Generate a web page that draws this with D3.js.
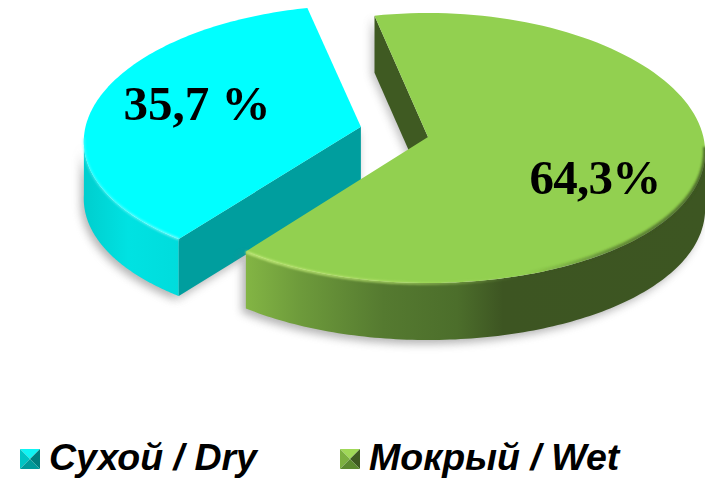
<!DOCTYPE html>
<html><head><meta charset="utf-8">
<script src="https://cdn.jsdelivr.net/npm/d3@7/dist/d3.min.js"></script>
<style>html,body{margin:0;padding:0;background:#fff}svg{display:block}</style>
</head><body><svg id="c" width="705" height="478"></svg>
<script>
const categories = ["Сухой / Dry", "Мокрый / Wet"];
const values = [35.7, 64.3];
const valueLabels = ["35,7 %", "64,3%"];
const topColors = ["#00ffff", "#92d050"];

const W = 705, H = 478;
const svg = d3.select("#c").attr("viewBox", `0 0 ${W} ${H}`);
const defs = svg.append("defs");
const rad = d => d * Math.PI / 180;

// layout of the tilted pie
const centre = {x: 428, y: 148}, rx = 277, ry = 135, depth = 57, lift = 11, explode = 0.25, persp = 0.03;
const sx = d3.scaleLinear().domain([-1, 1]).range([-rx, rx]);
const sy = d3.scaleLinear().domain([-1, 1]).range([-ry, ry]);

const arcs = d3.pie().value(d => d).sort(null).startAngle(rad(220)).endAngle(rad(580))(values);
const mid = d => (d.startAngle + d.endAngle) / 2;
const centres = arcs.map((d, i) => i === 0
  ? {x: centre.x + sx(explode * Math.sin(mid(d))), y: centre.y + sy(-explode * Math.cos(mid(d))) - 2, k: 0.98}
  : {x: centre.x, y: centre.y, k: 1});
const pt = (c, a, dz = 0) => [
  c.x + sx(Math.sin(a)) * (1 - persp * Math.cos(a)),
  c.y + sy(-Math.cos(a)) * c.k + dz];
const apex = (c, dz = 0) => [c.x, c.y - lift + dz];
const sweep = (a0, a1) => d3.range(0, 121).map(k => a0 + (a1 - a0) * k / 120);
const line = d3.line();
const closed = p => line(p) + "Z";

// defs
function grad(id, x1, x2, stops) {
  const g = defs.append("linearGradient").attr("id", id).attr("gradientUnits", "userSpaceOnUse")
    .attr("x1", x1).attr("x2", x2).attr("y1", 0).attr("y2", 0);
  stops.forEach(s => g.append("stop").attr("offset", s[0]).attr("stop-color", s[1]).attr("stop-opacity", s[2] === undefined ? 1 : s[2]));
}
grad("wetSide", 246, 705, [[0, "#83b544"], [0.12, "#6d9a3b"], [0.3, "#557a30"], [0.46, "#4c6e2b"], [0.56, "#3d5522"], [1, "#3d5622"]]);
grad("drySide", 86, 180, [[0, "#00cfcf"], [0.45, "#00e2e2"], [1, "#00dcdc"]]);
grad("wetHi", 246, 520, [[0, "#c4ec7a", 1], [0.55, "#b4e06a", 0.8], [1, "#a8d860", 0]]);
grad("dryHi", 86, 180, [[0, "#7fffff", 0.5], [1, "#bfffff", 0.7]]);
grad("wetRim", 525, 705, [[0, "#3d5522", 0], [0.5, "#3d5522", 0.55], [1, "#3d5522", 0.8]]);
[["blur1", 1], ["blur4", 4]].forEach(([id, s]) => defs.append("filter").attr("id", id)
  .attr("x", "-20%").attr("y", "-20%").attr("width", "140%").attr("height", "140%")
  .append("feGaussianBlur").attr("stdDeviation", s));

const dry = arcs[0], wet = arcs[1], cD = centres[0], cW = centres[1];

// dry slice
const dryOuter = sweep(dry.startAngle, rad(270));
const dryOuterFace = [...dryOuter.map(a => pt(cD, a)), ...dryOuter.slice().reverse().map(a => pt(cD, a, depth))];
const dryStraight = [pt(cD, dry.startAngle), apex(cD), apex(cD, depth), pt(cD, dry.startAngle, depth)];
svg.append("path").attr("d", closed(dryOuterFace)).attr("transform", "translate(-3,4)").attr("fill", "#777").attr("opacity", .55).attr("filter", "url(#blur4)");
svg.append("path").attr("d", closed(dryStraight)).attr("transform", "translate(-2,4)").attr("fill", "#777").attr("opacity", .5).attr("filter", "url(#blur4)");
svg.append("path").attr("d", closed(dryOuterFace)).attr("fill", "url(#drySide)");
svg.append("path").attr("d", closed(dryStraight)).attr("fill", "#009e9e");
svg.append("path").attr("d", closed([apex(cD), ...sweep(dry.startAngle, dry.endAngle).map(a => pt(cD, a))])).attr("fill", topColors[0]);
svg.append("path").attr("d", line(dryOuter.map(a => pt(cD, a)))).attr("fill", "none").attr("stroke", "url(#dryHi)").attr("stroke-width", 2).attr("filter", "url(#blur1)");

// wet slice: its front rim runs from the right extreme to the end of the slice
const wetFront = sweep(rad(450), wet.endAngle);
const wetOuterFace = [...wetFront.map(a => pt(cW, a)), ...wetFront.slice().reverse().map(a => pt(cW, a, depth))];
const wetBack = [pt(cW, wet.startAngle), apex(cW), apex(cW, depth), pt(cW, wet.startAngle, depth)];
svg.append("path").attr("d", closed(wetOuterFace)).attr("transform", "translate(-4,4)").attr("fill", "#777").attr("opacity", .55).attr("filter", "url(#blur4)");
svg.append("path").attr("d", closed(wetBack)).attr("transform", "translate(-3,2)").attr("fill", "#777").attr("opacity", .45).attr("filter", "url(#blur4)");
svg.append("path").attr("d", closed(wetBack)).attr("fill", "#3f5a22");
svg.append("path").attr("d", closed(wetOuterFace)).attr("fill", "url(#wetSide)");
svg.append("path").attr("d", closed([apex(cW), ...sweep(wet.startAngle, wet.endAngle).map(a => pt(cW, a))])).attr("fill", topColors[1]);
svg.append("path").attr("d", line(sweep(wet.endAngle, rad(510)).map(a => pt(cW, a, 0.5)))).attr("fill", "none").attr("stroke", "url(#wetHi)").attr("stroke-width", 2.5).attr("filter", "url(#blur1)");
svg.append("path").attr("d", line(sweep(rad(450), rad(520)).map(a => pt(cW, a, -1)))).attr("fill", "none").attr("stroke", "url(#wetRim)").attr("stroke-width", 4).attr("filter", "url(#blur1)");

// value labels
const labelPos = [[197, 120], [595, 194]];
const labelSpacing = [0, -0.8];
svg.selectAll("text.v").data(valueLabels).join("text").attr("class", "v")
  .attr("x", (d, i) => labelPos[i][0]).attr("y", (d, i) => labelPos[i][1])
  .attr("text-anchor", "middle").attr("font-family", "'Liberation Serif'").attr("font-weight", 700)
  .attr("letter-spacing", (d, i) => labelSpacing[i])
  .attr("font-size", 49).attr("fill", "#000").text(d => d);

// legend
const legendX = d3.scaleOrdinal().domain(categories).range([20, 340]);
const swatch = [
  ["#10f4f4", "#00c4c4", "#007f7f", "#009a9a"],
  ["#a0d858", "#7cb040", "#3f5a22", "#5c8a30"]
];
const s = 20, ly = 449;
const leg = svg.selectAll("g.l").data(categories).join("g").attr("class", "l")
  .attr("transform", d => `translate(${legendX(d)},${ly})`);
leg.each(function(d, i) {
  const g = d3.select(this), m = [s / 2, s / 2];
  const tris = [[[0, 0], [s, 0], m], [[0, 0], [0, s], m], [[s, 0], [s, s], m], [[0, s], [s, s], m]];
  tris.forEach((t, k) => g.append("path").attr("d", closed(t)).attr("fill", swatch[i][k]));
  g.append("text").attr("x", s + 9).attr("y", s + 1).attr("font-family", "'Liberation Sans'")
    .attr("font-weight", 700).attr("font-style", "italic").attr("font-size", 37.5).attr("fill", "#000").text(d);
});
</script></body></html>
